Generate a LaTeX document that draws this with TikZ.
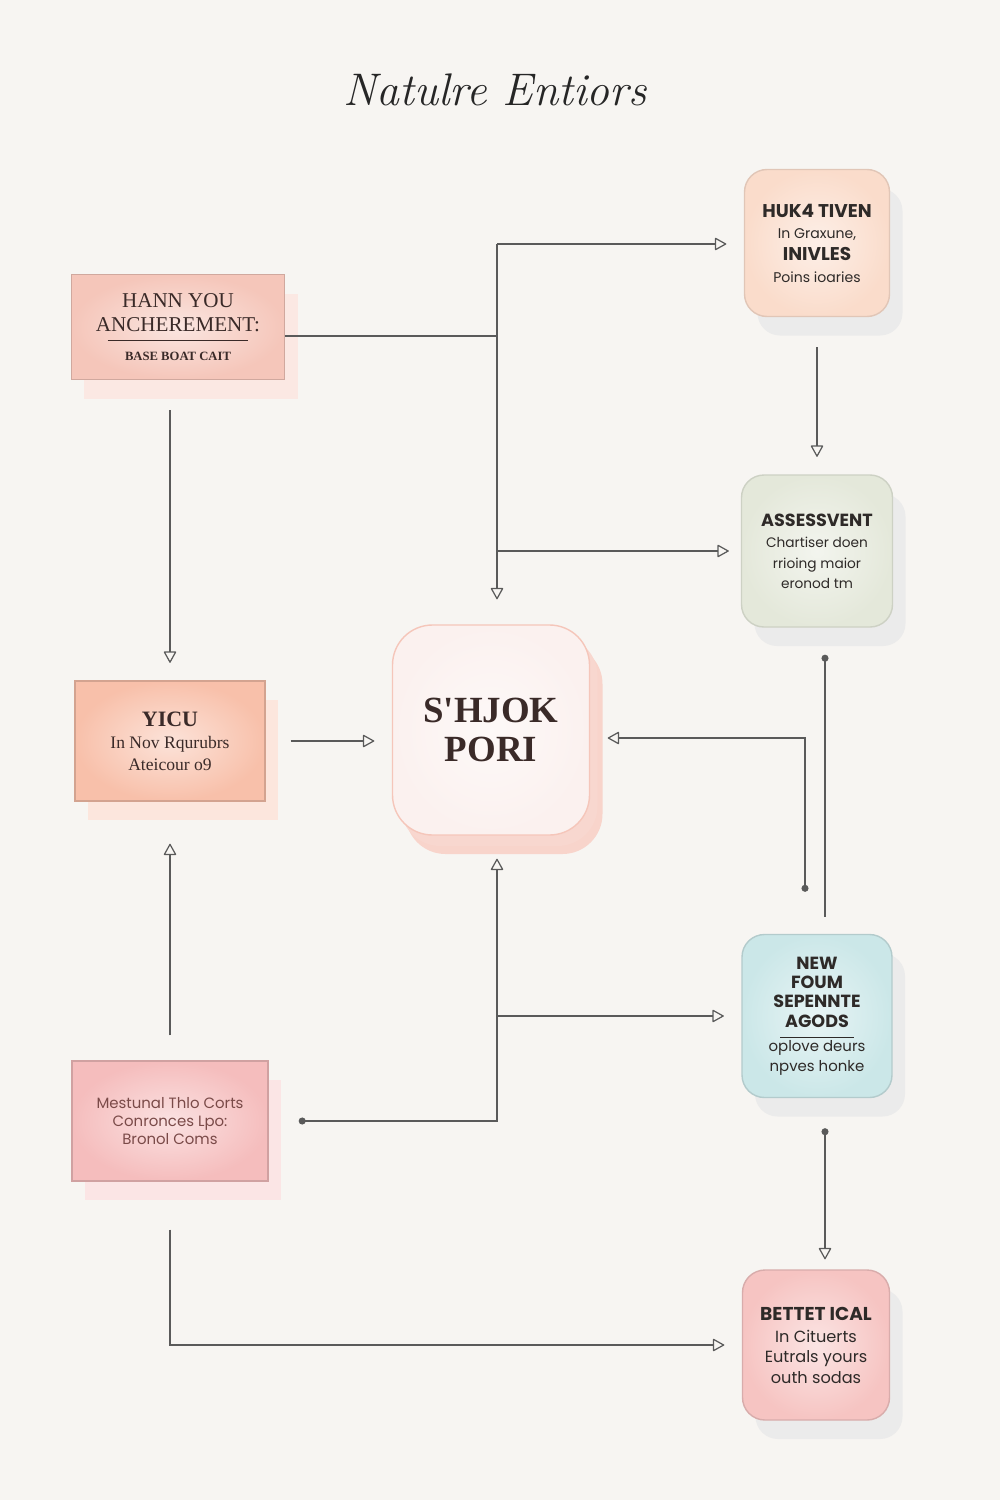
\documentclass[tikz,border=0pt]{standalone}
\usepackage{fontspec}
\usepackage{xcolor}
\usetikzlibrary{arrows.meta,shadows,calc}
\newfontfamily\boxserif{Liberation Serif}[Ligatures=TeXOff]
\newfontfamily\boxsans{Poppins}
\newcommand\hd[2]{{\bfseries\fontsize{#1}{#1}\selectfont #2}}
\definecolor{paper}{HTML}{F7F5F2}
\definecolor{ink}{HTML}{5A5A5A}
\definecolor{serifink}{HTML}{3A2A28}
\definecolor{sansink}{HTML}{2E2A28}
\definecolor{roseink}{HTML}{7A4A48}
\definecolor{tileA}{HTML}{F5C6BA}
\definecolor{tileB}{HTML}{FADCCB}
\definecolor{tileC}{HTML}{E4E8DA}
\definecolor{tileD}{HTML}{F8C0AA}
\definecolor{tileE}{HTML}{FBF1EF}
\definecolor{tileF}{HTML}{CBE7E8}
\definecolor{tileG}{HTML}{F5BDBD}
\definecolor{tileH}{HTML}{F6C4C2}

\begin{document}
\begin{tikzpicture}[x=0.2mm, y=-0.2mm,
    link/.style={draw=ink, line width=0.7pt},
    arrow/.style={link, -{Triangle[open, round, length=2.4mm, width=2.6mm]}, shorten >=3.5mm},
    dotarrow/.style={link, {Circle[length=1.4mm]}-{Triangle[open, round, length=2.4mm, width=2.6mm]}, shorten >=3.5mm},
    dotline/.style={link, {Circle[length=1.4mm]}-},
    slab/.style n args={3}{rectangle, shade, inner color=#1!45!white, outer color=#1, draw=#2, line width=0.8pt,
        general shadow={fill=#3, shadow xshift=2.6mm, shadow yshift=-3.8mm}},
    tile/.style n args={3}{slab={#1}{#2}{#3}, rounded corners=4.5mm},
    serif/.style 2 args={font={\boxserif\fontsize{#1}{#2}\selectfont}, text=serifink, align=center},
    sans/.style 2 args={font={\boxsans\fontsize{#1}{#2}\selectfont}, text=sansink, align=center}]
    %% paper
    \fill[paper] (0,0) rectangle (1000,1500);
    %% title
    \node[font=\fontsize{26}{30}\selectfont\itshape, text=black!85] (title) at (495,90) {Natulre Entiors};
    %% boxes
    \node[slab={tileA}{tileA!85!black}{tileA!40!white}, serif={12}{13.6}, minimum width=42.6mm, minimum height=21mm] (A) at (178,327)
        {HANN YOU\\ANCHEREMENT:\\[-8pt]\rule{80pt}{0.6pt}\\[-3pt]\hd{7.2}{BASE BOAT CAIT}};
    \node[tile={tileB}{tileB!90!black}{black!8}, sans={8}{12.3}, minimum width=29mm, minimum height=29.4mm] (B) at (817,243)
        {\hd{10.5}{HUK4 TIVEN}\\In Graxune,\\\hd{10.5}{INIVLES}\\Poins ioaries};
    \node[tile={tileC}{tileC!90!black}{black!8}, sans={7.8}{11.5}, minimum width=30.2mm, minimum height=30.4mm] (C) at (817,551)
        {\hd{10}{ASSESSVENT}\\[1pt]Chartiser doen\\rrioing maior\\eronod tm};
    \node[slab={tileD}{tileD!85!black}{tileD!40!white}, serif={10}{12.5}, minimum width=38mm, minimum height=24mm] (D) at (170,741)
        {\hd{12.5}{YICU}\\In Nov Rqurubrs\\Ateicour o9};
    \node[tile={tileE}{tileA}{tileA!75!white}, general shadow={fill=tileA!70!white, shadow xshift=1.6mm, shadow yshift=-2.2mm},
        rounded corners=8mm, serif={21}{22.5}, minimum width=39.4mm, minimum height=42mm] (E) at (491,730)
        {\hd{21}{S'HJOK}\\\hd{21}{PORI}};
    \node[tile={tileF}{tileF!88!black}{black!8}, sans={8.5}{11}, minimum width=30mm, minimum height=32.6mm] (F) at (817,1016)
        {\hd{10}{NEW}\\\hd{10}{FOUM}\\\hd{10}{SEPENNTE}\\\hd{10}{AGODS}\\[-5pt]\rule{42pt}{0.6pt}\\[-3pt]oplove deurs\\npves honke};
    \node[slab={tileG}{tileG!85!black}{tileG!40!white}, sans={8.5}{10}, text=roseink, minimum width=39.2mm, minimum height=24mm] (G) at (170,1121)
        {Mestunal Thlo Corts\\Conronces Lpo:\\Bronol Coms};
    \node[tile={tileH}{tileH!88!black}{black!8}, sans={9.2}{11.6}, minimum width=29.4mm, minimum height=30mm] (H) at (816,1345)
        {\hd{10.6}{BETTET ICAL}\\[1pt]In Cituerts\\Eutrals yours\\outh sodas};
    %% connectors
    \coordinate (tr) at (497,244);
    \draw[link] ([yshift=-1.8mm]A.east) -- ([yshift=-1.8mm]A.east -| tr);
    \draw[arrow, shorten >=5mm] (tr) -- (tr |- E.north);
    \draw[arrow] (tr) -- (tr -| B.west);
    \draw[arrow, shorten >=2.4mm] (tr |- C.west) -- (C.west);
    \draw[arrow, shorten <=6mm] (A.south -| D.north) -- (D.north);
    \draw[arrow, shorten <=5mm] (D.east) -- (D.east -| E.west);
    \draw[arrow, shorten <=6mm] (B.south) -- (C.north);
    \draw[dotline, shorten <=5.4mm, shorten >=3.4mm] ([xshift=1.6mm]C.south) -- ([xshift=1.6mm]C.south |- F.north);
    \draw[dotarrow, shorten <=8.4mm] ([xshift=-2.4mm]F.north) |- ([yshift=-1.6mm]E.east);
    \draw[dotarrow, shorten <=6mm, shorten >=4.6mm] (G.east) -| (tr |- E.south);
    \draw[arrow] (tr |- F.west) -- (F.west);
    \draw[dotarrow, shorten <=6mm, shorten >=2mm] ([xshift=1.6mm]F.south) -- ([xshift=1.6mm]F.south |- H.north);
    \draw[arrow, shorten <=9.6mm] (G.south) |- (H.west);
    \draw[arrow, shorten <=5mm, shorten >=8.4mm] (G.north) -- (D.south);
\end{tikzpicture}
\end{document}
